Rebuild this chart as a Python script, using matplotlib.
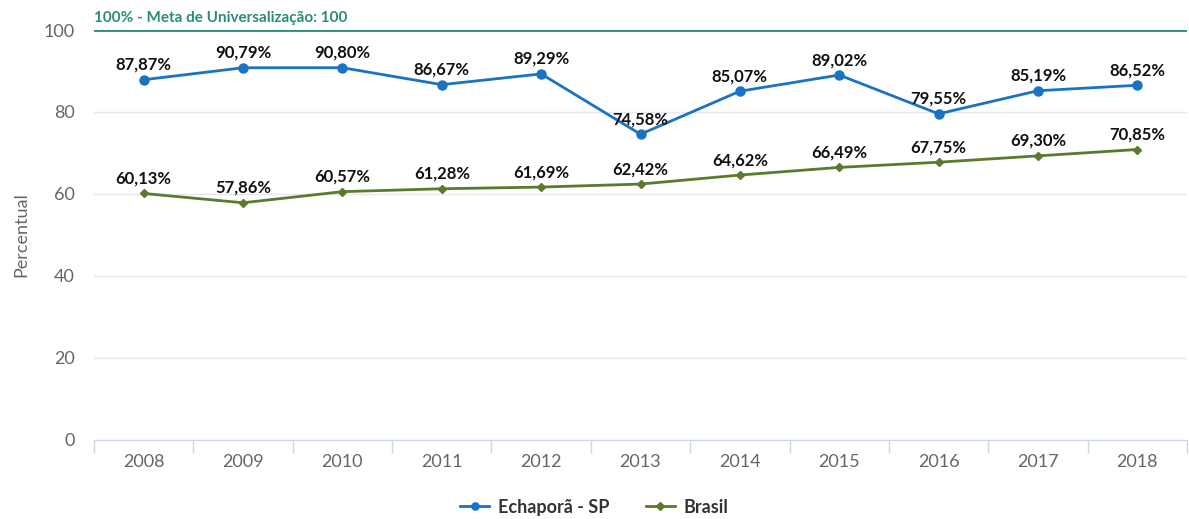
import matplotlib
matplotlib.use('Agg')
import matplotlib.pyplot as plt
import numpy as np

# data
anos = ['2008', '2009', '2010', '2011', '2012', '2013', '2014', '2015', '2016', '2017', '2018']
echapora = [87.87, 90.79, 90.80, 86.67, 89.29, 74.58, 85.07, 89.02, 79.55, 85.19, 86.52]
brasil = [60.13, 57.86, 60.57, 61.28, 61.69, 62.42, 64.62, 66.49, 67.75, 69.30, 70.85]
meta = 100
y_ticks = [0, 20, 40, 60, 80, 100]

plt.rcParams['font.family'] = ['Lato', 'DejaVu Sans']

cor_azul = '#1a73c2'
cor_verde = '#5c7a2c'
cor_meta = '#2a8c78'

fig = plt.figure(figsize=(11.89, 5.19), dpi=100)
ax = fig.add_axes([94 / 1189, 79 / 519, 1093 / 1189, 410 / 519])

x = np.arange(len(anos))
ax.plot(x, echapora, color=cor_azul, lw=2, marker='o', ms=6.5, label='Echaporã - SP', zorder=4)
ax.plot(x, brasil, color=cor_verde, lw=2, marker='D', ms=4.5, label='Brasil', zorder=4)

def fmt(v):
    return f'{v:.2f}%'.replace('.', ',')

for serie in (echapora, brasil):
    for i, v in enumerate(serie):
        ax.annotate(fmt(v), (i, v), xytext=(0, 5), textcoords='offset points',
                    ha='center', va='bottom', fontsize=12, fontweight='bold',
                    color='#111111', zorder=5)

# linha da meta
ax.axhline(meta, color=cor_meta, lw=2, zorder=3)
ax.text(-0.5, meta + 1.3, '100% - Meta de Universalização: 100', color=cor_meta,
        fontsize=11, fontweight='bold', ha='left', va='bottom', zorder=5)

ax.set_xlim(-0.5, len(anos) - 0.5)
ax.set_ylim(0, 100)
ax.set_yticks(y_ticks)
ax.set_yticklabels([str(t) for t in y_ticks], fontsize=13, color='#666666')
ax.set_xticks(x)
ax.set_xticklabels(anos, fontsize=13, color='#666666')
ax.tick_params(axis='x', length=0, pad=10)
ax.tick_params(axis='y', length=0, pad=14)
ax.set_xticks(np.arange(-0.5, len(anos)), minor=True)
ax.tick_params(axis='x', which='minor', length=9, color='#ccd6eb', width=1)

ax.grid(axis='y', color='#e6e6ee', lw=1)
ax.set_axisbelow(True)
for s in ['top', 'right', 'left']:
    ax.spines[s].set_visible(False)
ax.spines['bottom'].set_color('#ccd6eb')

ax.set_ylabel('Percentual', fontsize=13, color='#666666', labelpad=10)

leg = fig.legend(loc='lower center', bbox_to_anchor=(0.5, -0.025), ncol=2, frameon=False,
                 prop={'size': 13, 'weight': 'bold'}, handlelength=1.6, columnspacing=2.0,
                 handletextpad=0.5, markerscale=0.8)
for t in leg.get_texts():
    t.set_color('#333333')

fig.savefig('out.png', dpi=100)
